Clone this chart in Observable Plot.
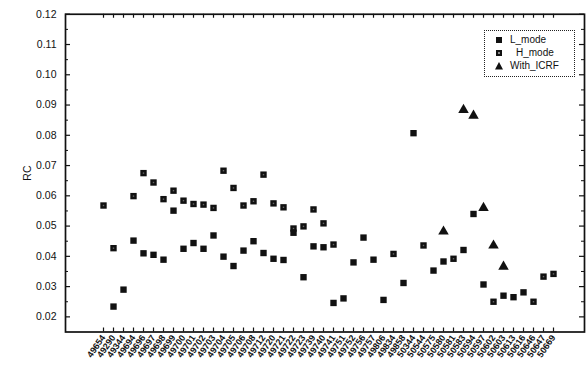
<!DOCTYPE html>
<html>
<head>
<meta charset="utf-8">
<script src="https://cdn.jsdelivr.net/npm/d3@7"></script>
<script src="https://cdn.jsdelivr.net/npm/@observablehq/plot@0.6"></script>
<style>
  body { margin: 0; background: #fff; }
  #wrap { position: relative; width: 587px; height: 368px; font-family: "Liberation Sans", Arial, sans-serif; }
  #legend { position: absolute; left: 484px; top: 30px; width: 89px; height: 45px; border: 1px dotted #222; background: #fff; font-size: 10px; color: #111; }
  #legend .row { position: absolute; left: 0; height: 12px; line-height: 12px; white-space: nowrap; }
  #legend svg { position: absolute; left: 10px; top: 2px; }
  #legend span { position: absolute; left: 25px; }
  g[aria-label="x-axis tick label"] text { font-weight: bold; }
</style>
</head>
<body>
<div id="wrap">
  <div id="chart"></div>
  <div id="legend"></div>
</div>
<script>
// Shot numbers (categories)
const shots = ["49654","49290","49344","49694","49696","49697","49698","49699","49700","49701",
  "49702","49703","49704","49705","49706","49708","49712","49720","49721","49722",
  "49723","49739","49740","49741","49751","49752","49756","49757","49806","49834",
  "49858","50344","50544","50575","50580","50581","50583","50594","50597","50602",
  "50603","50613","50616","50646","50647","50669"];

// RC values per shot (null = no point)
const lMode = [null,0.0234,0.0290,0.0452,0.0410,0.0405,0.0389,0.0551,0.0425,0.0444,
  0.0425,0.0469,0.0399,0.0368,0.0419,0.0450,0.0411,0.0392,0.0388,0.0478,
  0.0331,0.0433,0.0430,0.0246,0.0261,0.0380,0.0462,0.0389,0.0256,null,
  0.0312,0.0807,null,0.0353,0.0383,null,0.0421,0.0540,0.0307,null,
  0.0270,0.0265,0.0281,null,null,null];

const hMode = [0.0568,0.0427,null,0.0599,0.0675,0.0644,0.0589,0.0617,0.0584,0.0573,
  0.0571,0.0560,0.0683,0.0626,0.0568,0.0582,0.0670,0.0575,0.0562,0.0492,
  0.0499,0.0555,0.0509,0.0439,null,null,null,null,null,0.0408,
  null,null,0.0436,null,null,0.0392,null,null,null,0.0250,
  null,null,null,0.0250,0.0333,0.0342];

const withICRF = [null,null,null,null,null,null,null,null,null,null,
  null,null,null,null,null,null,null,null,null,null,
  null,null,null,null,null,null,null,null,null,null,
  null,null,null,null,0.0482,null,0.0884,0.0865,0.0560,0.0436,
  0.0366,null,null,null,null,null];

const yMajor = [0.02,0.03,0.04,0.05,0.06,0.07,0.08,0.09,0.10,0.11,0.12];
const yMinor = [0.025,0.035,0.045,0.055,0.065,0.075,0.085,0.095,0.105,0.115];

const toRows = (arr) => arr.map((v, i) => ({shot: shots[i], value: v})).filter(d => d.value != null);
const L = toRows(lMode), H = toRows(hMode), I = toRows(withICRF);

const W = 587, Hh = 368;
const mL = 65, mR = 3, mT = 13.75, mB = 36.5;
const fw = W - mL - mR, fh = Hh - mT - mB;

const chart = Plot.plot({
  width: W, height: Hh,
  marginLeft: mL, marginRight: mR, marginTop: mT, marginBottom: mB,
  style: {fontFamily: "'Liberation Sans', Arial, sans-serif", color: "#111", background: "#fff"},
  x: {type: "point", domain: shots, range: [85.7, 571]},
  y: {domain: [0.015, 0.12], range: [Hh - mB, mT]},
  marks: [
    Plot.axisY({ticks: yMajor, tickSize: 0, tickPadding: 9, tickFormat: d3.format(".2f"), fontSize: 10.5,
      label: "RC", labelAnchor: "center", labelArrow: "none", labelOffset: 42}),
    Plot.axisX({tickSize: 0, tickRotate: -55, tickPadding: 4, fontSize: 9, label: null}),
    // inward ticks
    Plot.tickY(yMajor, {y: d => d, insetRight: fw - 5, stroke: "#111", strokeWidth: 1.2}),
    Plot.tickY(yMinor, {y: d => d, insetRight: fw - 3, stroke: "#111", strokeWidth: 1}),
    Plot.tickY(yMajor, {y: d => d, insetLeft: fw - 5, stroke: "#111", strokeWidth: 1.2}),
    Plot.tickY(yMinor, {y: d => d, insetLeft: fw - 3, stroke: "#111", strokeWidth: 1}),
    Plot.tickX(shots, {x: d => d, insetTop: fh - 4, stroke: "#111", strokeWidth: 1.2}),
    Plot.tickX(shots, {x: d => d, insetBottom: fh - 4, stroke: "#111", strokeWidth: 1.2}),
    Plot.frame({stroke: "#111", strokeWidth: 1.7}),
    // data
    Plot.dot(H, {x: "shot", y: "value", symbol: "square", r: 3.6, fill: "#111", stroke: "none"}),
    Plot.dot(H, {x: "shot", y: "value", symbol: "square", r: 0.8, fill: "#666", stroke: "none"}),
    Plot.dot(L, {x: "shot", y: "value", symbol: "square", r: 3.6, fill: "#111", stroke: "none"}),
    Plot.dot(I, {x: "shot", y: "value", symbol: "triangle", r: 3.9, fill: "#111", stroke: "none"})
  ]
});
document.getElementById("chart").appendChild(chart);

// legend
const legendItems = [
  {name: "L_mode", shape: "sq", inner: false, indent: 0},
  {name: "H_mode", shape: "sq", inner: true, indent: 6},
  {name: "With_ICRF", shape: "tri", inner: false, indent: 0}
];
const leg = document.getElementById("legend");
legendItems.forEach((it, i) => {
  const row = document.createElement("div");
  row.className = "row";
  row.style.top = (3 + i * 13) + "px";
  row.style.width = "89px";
  let shape;
  if (it.shape === "sq") {
    shape = `<rect x="1" y="1" width="6" height="6" fill="#111"/>` + (it.inner ? `<rect x="3" y="3" width="2" height="2" fill="#888"/>` : "");
  } else {
    shape = `<polygon points="4,0 8,7.5 0,7.5" fill="#111"/>`;
  }
  row.innerHTML = `<svg width="8" height="8">${shape}</svg><span style="left:${25 + it.indent}px">${it.name}</span>`;
  leg.appendChild(row);
});
</script>
</body>
</html>
